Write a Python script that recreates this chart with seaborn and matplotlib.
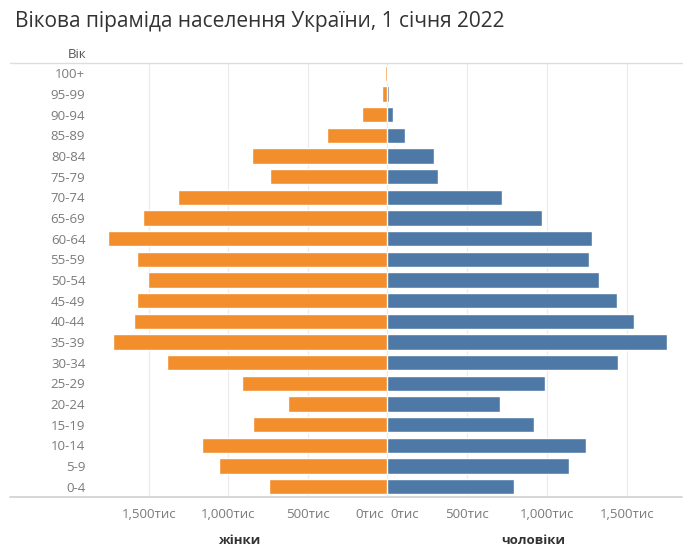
import matplotlib.pyplot as plt
import matplotlib.transforms as mtransforms
from matplotlib.lines import Line2D
import pandas as pd
import seaborn as sns

ages = ["100+", "95-99", "90-94", "85-89", "80-84", "75-79", "70-74", "65-69",
        "60-64", "55-59", "50-54", "45-49", "40-44", "35-39", "30-34", "25-29",
        "20-24", "15-19", "10-14", "5-9", "0-4"]
# thousands of people
women = [12, 33, 156, 376, 851, 736, 1320, 1540, 1763, 1574, 1509, 1574, 1595,
         1730, 1385, 912, 624, 845, 1164, 1061, 742]
men = [6, 10, 37, 110, 292, 317, 717, 969, 1279, 1260, 1323, 1440, 1542,
       1748, 1446, 987, 704, 917, 1246, 1137, 794]
ticks = [0, 500, 1000, 1500]
tick_labels = ["0тис", "500тис", "1,000тис", "1,500тис"]

sns.set_theme(style="white")
plt.rcParams['font.family'] = ['Open Sans', 'DejaVu Sans']

orange = "#F28E2B"
blue = "#4E79A7"
grid_c = "#ebebeb"
label_c = "#7a7a7a"

df_w = pd.DataFrame({"age": ages, "value": women})
df_m = pd.DataFrame({"age": ages, "value": men})

fig = plt.figure(figsize=(6.9, 5.52), dpi=100)
ax_l = fig.add_axes([95 / 690, 1 - 497 / 552, 292 / 690, 434 / 552])
ax_r = fig.add_axes([387 / 690, 1 - 497 / 552, 295 / 690, 434 / 552])

sns.barplot(data=df_w, x="value", y="age", order=ages, orient="h",
            color=orange, saturation=1, width=0.73, ax=ax_l)
sns.barplot(data=df_m, x="value", y="age", order=ages, orient="h",
            color=blue, saturation=1, width=0.73, ax=ax_r)

ax_l.set_xlim(1842, 0)
ax_r.set_xlim(0, 1844)

for ax in (ax_l, ax_r):
    ax.set_xticks(ticks)
    ax.set_xticklabels(tick_labels, fontsize=9.5, color=label_c)
    ax.xaxis.grid(True, color=grid_c, linewidth=0.8)
    ax.set_axisbelow(True)
    ax.set_ylabel("")
    ax.tick_params(length=0, pad=8)
    for s in ax.spines.values():
        s.set_visible(False)

ax_l.set_yticks(range(len(ages)))
ax_l.set_yticklabels(ages, fontsize=9.5, color=label_c)
ax_l.tick_params(axis="y", pad=7)
ax_r.set_yticks([])

# zero labels sit next to each other under the centre line
lab_l = ax_l.get_xticklabels()[0]
lab_l.set_ha("right")
lab_l.set_transform(lab_l.get_transform() + mtransforms.ScaledTranslation(-3 / 100, 0, fig.dpi_scale_trans))
lab_r = ax_r.get_xticklabels()[0]
lab_r.set_ha("left")
lab_r.set_transform(lab_r.get_transform() + mtransforms.ScaledTranslation(3 / 100, 0, fig.dpi_scale_trans))

ax_l.set_xlabel("жінки", fontsize=9.5, fontweight="bold", color="#333333")
ax_r.set_xlabel("чоловіки", fontsize=9.5, fontweight="bold", color="#333333")
ax_l.xaxis.set_label_coords((240 - 95) / 292, -0.085)
ax_r.xaxis.set_label_coords((533 - 387) / 295, -0.085)

# header / footer rules
fig.add_artist(Line2D([10 / 690, 682 / 690], [1 - 63 / 552] * 2, color="#dddddd", linewidth=1))
fig.add_artist(Line2D([10 / 690, 682 / 690], [1 - 497 / 552] * 2, color="#d0d0d0", linewidth=1.2))

fig.text(15 / 690, 1 - 21 / 552, "Вікова піраміда населення України, 1 січня 2022",
         fontsize=15, color="#333333", va="center", ha="left")
fig.text(77 / 690, 1 - 55 / 552, "Вік", fontsize=9.5, color="#555555", va="center", ha="center")

fig.savefig("out.png", dpi=100)
